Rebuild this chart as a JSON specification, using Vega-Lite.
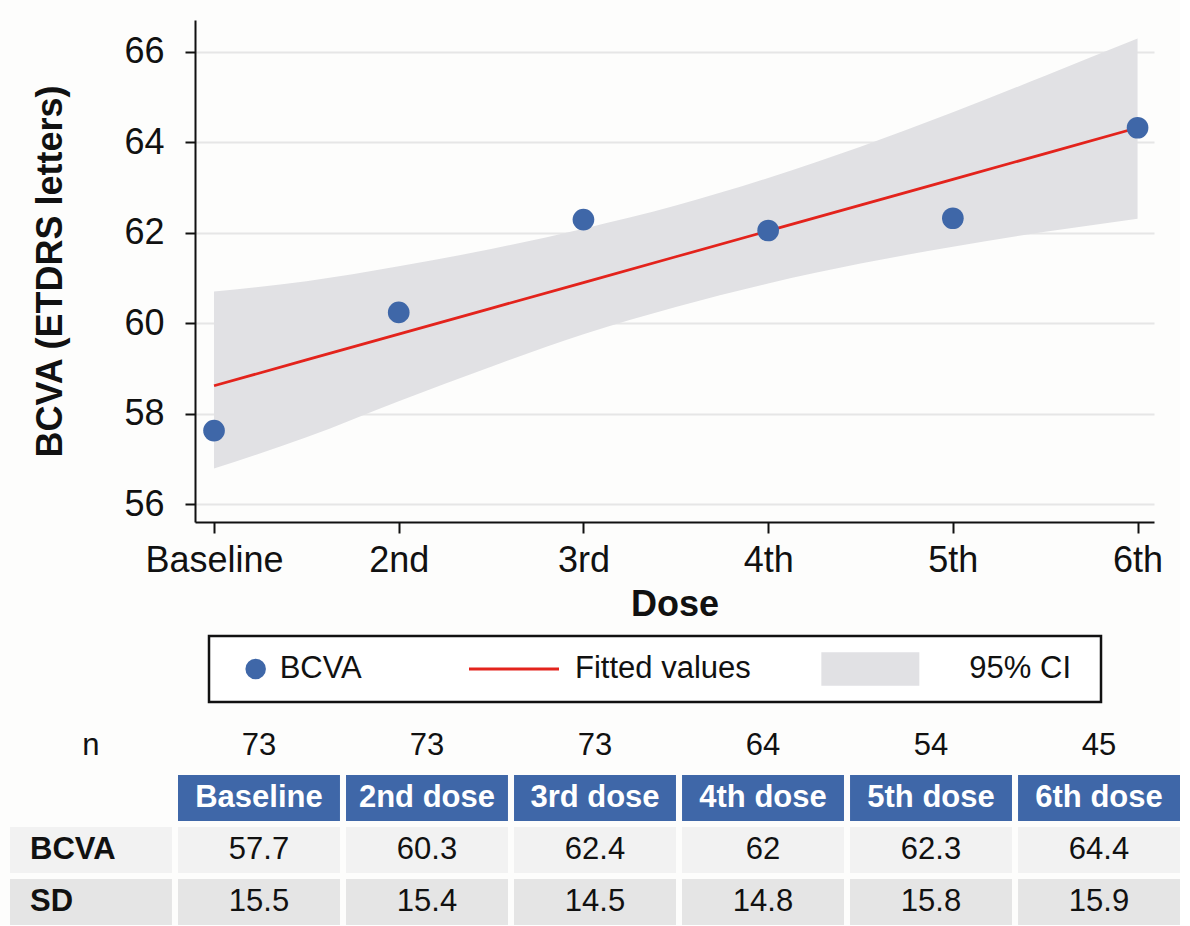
{
  "$schema": "https://vega.github.io/schema/vega-lite/v6.json",
  "background": "#fdfdfc",
  "padding": {"left": 10, "top": 20, "right": 0, "bottom": 0},
  "config": {
    "font": "Liberation Sans",
    "view": {"stroke": null}
  },
  "datasets": {
    "points": [
      {"dose": 0, "bcva": 57.63},
      {"dose": 1, "bcva": 60.24},
      {"dose": 2, "bcva": 62.29},
      {"dose": 3, "bcva": 62.05},
      {"dose": 4, "bcva": 62.32},
      {"dose": 5, "bcva": 64.32}
    ],
    "fit": [
      {"dose": 0, "fit": 58.62, "lo": 56.79, "hi": 60.70},
      {"dose": 0.5, "fit": 59.19, "lo": 57.48, "hi": 60.93},
      {"dose": 1, "fit": 59.76, "lo": 58.28, "hi": 61.26},
      {"dose": 1.5, "fit": 60.33, "lo": 59.04, "hi": 61.64},
      {"dose": 2, "fit": 60.90, "lo": 59.76, "hi": 62.09},
      {"dose": 2.5, "fit": 61.47, "lo": 60.36, "hi": 62.60},
      {"dose": 3, "fit": 62.04, "lo": 60.88, "hi": 63.21},
      {"dose": 3.5, "fit": 62.61, "lo": 61.32, "hi": 63.90},
      {"dose": 4, "fit": 63.18, "lo": 61.69, "hi": 64.66},
      {"dose": 4.5, "fit": 63.75, "lo": 62.02, "hi": 65.47},
      {"dose": 5, "fit": 64.32, "lo": 62.31, "hi": 66.29}
    ],
    "legend": [
      {"item": "BCVA"},
      {"item": "Fitted values"},
      {"item": "95% CI"}
    ],
    "table": [
      {"row": "n", "col": "label", "text": "n"},
      {"row": "n", "col": "Baseline", "text": "73"},
      {"row": "n", "col": "2nd dose", "text": "73"},
      {"row": "n", "col": "3rd dose", "text": "73"},
      {"row": "n", "col": "4th dose", "text": "64"},
      {"row": "n", "col": "5th dose", "text": "54"},
      {"row": "n", "col": "6th dose", "text": "45"},
      {"row": "header", "col": "Baseline", "text": "Baseline"},
      {"row": "header", "col": "2nd dose", "text": "2nd dose"},
      {"row": "header", "col": "3rd dose", "text": "3rd dose"},
      {"row": "header", "col": "4th dose", "text": "4th dose"},
      {"row": "header", "col": "5th dose", "text": "5th dose"},
      {"row": "header", "col": "6th dose", "text": "6th dose"},
      {"row": "BCVA", "col": "label", "text": "BCVA"},
      {"row": "BCVA", "col": "Baseline", "text": "57.7"},
      {"row": "BCVA", "col": "2nd dose", "text": "60.3"},
      {"row": "BCVA", "col": "3rd dose", "text": "62.4"},
      {"row": "BCVA", "col": "4th dose", "text": "62"},
      {"row": "BCVA", "col": "5th dose", "text": "62.3"},
      {"row": "BCVA", "col": "6th dose", "text": "64.4"},
      {"row": "SD", "col": "label", "text": "SD"},
      {"row": "SD", "col": "Baseline", "text": "15.5"},
      {"row": "SD", "col": "2nd dose", "text": "15.4"},
      {"row": "SD", "col": "3rd dose", "text": "14.5"},
      {"row": "SD", "col": "4th dose", "text": "14.8"},
      {"row": "SD", "col": "5th dose", "text": "15.8"},
      {"row": "SD", "col": "6th dose", "text": "15.9"}
    ]
  },
  "concat": [
    {
      "concat": [
        {
          "concat": [
            {"width": 22, "height": 2, "data": {"values": [{}]}, "mark": {"type": "rect", "opacity": 0}, "encoding": {}},
            {
              "width": 959,
              "height": 502,
              "layer": [
                {
                  "data": {"name": "fit"},
                  "mark": {"type": "area", "color": "#e1e1e4", "opacity": 1, "interpolate": "monotone"},
                  "encoding": {
                    "x": {"field": "dose", "type": "quantitative", "title": "Dose",
                      "scale": {"domain": [-0.103, 5.089], "nice": false, "zero": false},
                      "axis": {"values": [0, 1, 2, 3, 4, 5],
                        "labelExpr": "['Baseline','2nd','3rd','4th','5th','6th'][datum.value]",
                        "grid": false, "domainColor": "#111111", "domainWidth": 2,
                        "tickColor": "#111111", "tickWidth": 2, "tickSize": 11,
                        "labelFontSize": 36, "labelColor": "#111111", "labelPadding": 10, "labelFlush": false,
                        "titleFontSize": 36, "titleFontWeight": "bold", "titleColor": "#111111", "titlePadding": 9}},
                    "y": {"field": "lo", "type": "quantitative", "title": "BCVA (ETDRS letters)",
                      "scale": {"domain": [55.61, 66.70], "nice": false, "zero": false},
                      "axis": {"values": [56, 58, 60, 62, 64, 66],
                        "grid": true, "gridColor": "#e6e6e6", "gridWidth": 2,
                        "domainColor": "#111111", "domainWidth": 2,
                        "tickColor": "#111111", "tickWidth": 2, "tickSize": 10,
                        "labelFontSize": 36, "labelColor": "#111111", "labelPadding": 21,
                        "titleFontSize": 36, "titleFontWeight": "bold", "titleColor": "#111111", "titlePadding": 54}},
                    "y2": {"field": "hi"}
                  }
                },
                {
                  "data": {"name": "fit"},
                  "mark": {"type": "line", "color": "#e3231c", "strokeWidth": 2.8},
                  "encoding": {
                    "x": {"field": "dose", "type": "quantitative", "title": "Dose"},
                    "y": {"field": "fit", "type": "quantitative", "title": "BCVA (ETDRS letters)"}
                  }
                },
                {
                  "data": {"name": "points"},
                  "mark": {"type": "point", "filled": true, "size": 470, "color": "#3f67a8", "opacity": 1},
                  "encoding": {
                    "x": {"field": "dose", "type": "quantitative", "title": "Dose"},
                    "y": {"field": "bcva", "type": "quantitative", "title": "BCVA (ETDRS letters)"}
                  }
                }
              ]
            }
          ],
          "align": "none",
          "spacing": 0
        },
        {
          "concat": [
            {"width": 197, "height": 2, "data": {"values": [{}]}, "mark": {"type": "rect", "opacity": 0}, "encoding": {}},
            {
              "width": 892,
              "height": 66,
              "data": {"name": "legend"},
              "encoding": {
                "x": {"field": "item", "type": "nominal",
                  "scale": {"type": "point", "domain": ["BCVA", "Fitted values", "95% CI"], "padding": 0.5},
                  "axis": null}
              },
              "layer": [
                {
                  "data": {"values": [{}]},
                  "mark": {"type": "rect", "fill": "#ffffff", "stroke": "#111111", "strokeWidth": 2.5},
                  "encoding": {"x": null}
                },
                {
                  "transform": [{"filter": "datum.item === 'BCVA'"}],
                  "mark": {"type": "point", "shape": "circle", "filled": true, "size": 420, "color": "#3f67a8", "opacity": 1, "xOffset": -102}
                },
                {
                  "transform": [{"filter": "datum.item === 'BCVA'"}],
                  "mark": {"type": "text", "align": "left", "fontSize": 31, "color": "#111111", "dx": -78},
                  "encoding": {"text": {"field": "item"}}
                },
                {
                  "transform": [{"filter": "datum.item === 'Fitted values'"}],
                  "mark": {"type": "point", "shape": "stroke", "filled": false, "size": 8100, "color": "#e3231c", "strokeWidth": 2.8, "opacity": 1, "xOffset": -141}
                },
                {
                  "transform": [{"filter": "datum.item === 'Fitted values'"}],
                  "mark": {"type": "text", "align": "left", "fontSize": 31, "color": "#111111", "dx": -80},
                  "encoding": {"text": {"field": "item"}}
                },
                {
                  "transform": [{"filter": "datum.item === '95% CI'"}],
                  "mark": {"type": "point", "shape": "M-1,-0.34H1V0.34H-1Z", "filled": true, "size": 9604, "color": "#e1e1e4", "opacity": 1, "xOffset": -82}
                },
                {
                  "transform": [{"filter": "datum.item === '95% CI'"}],
                  "mark": {"type": "text", "align": "left", "fontSize": 31, "color": "#111111", "dx": 17},
                  "encoding": {"text": {"field": "item"}}
                }
              ]
            }
          ],
          "align": "none",
          "spacing": 0
        }
      ],
      "columns": 1,
      "align": "none",
      "spacing": 12
    },
    {
      "width": 1170,
      "height": 202,
      "data": {"name": "table"},
      "encoding": {
        "x": {"field": "col", "type": "nominal",
          "scale": {"type": "band", "domain": ["label", "Baseline", "2nd dose", "3rd dose", "4th dose", "5th dose", "6th dose"], "paddingInner": 0.036, "paddingOuter": 0},
          "axis": null},
        "y": {"field": "row", "type": "nominal",
          "scale": {"type": "band", "domain": ["n", "header", "BCVA", "SD"], "paddingInner": 0.1154, "paddingOuter": 0},
          "axis": null}
      },
      "layer": [
        {
          "transform": [{"filter": "datum.row !== 'n'"}],
          "mark": {"type": "rect"},
          "encoding": {
            "fill": {"field": "row", "type": "nominal",
              "scale": {"domain": ["header", "BCVA", "SD"], "range": ["#3f67a8", "#f2f2f2", "#e5e5e5"]},
              "legend": null}
          }
        },
        {
          "transform": [{"filter": "datum.row !== 'header' && (datum.col !== 'label' || datum.row === 'n')"}],
          "mark": {"type": "text", "fontSize": 31, "color": "#111111"},
          "encoding": {"text": {"field": "text"}}
        },
        {
          "transform": [{"filter": "datum.row === 'header'"}],
          "mark": {"type": "text", "fontSize": 31, "fontWeight": "bold", "color": "#ffffff"},
          "encoding": {"text": {"field": "text"}}
        },
        {
          "transform": [{"filter": "datum.col === 'label' && datum.row !== 'n'"}],
          "mark": {"type": "text", "fontSize": 31, "fontWeight": "bold", "color": "#111111", "align": "left", "dx": 20},
          "encoding": {
            "x": {"field": "col", "type": "nominal", "bandPosition": 0},
            "text": {"field": "text"}
          }
        }
      ]
    }
  ],
  "columns": 1,
  "align": "none",
  "spacing": 19,
  "resolve": {"scale": {"x": "independent", "y": "independent"}}
}
